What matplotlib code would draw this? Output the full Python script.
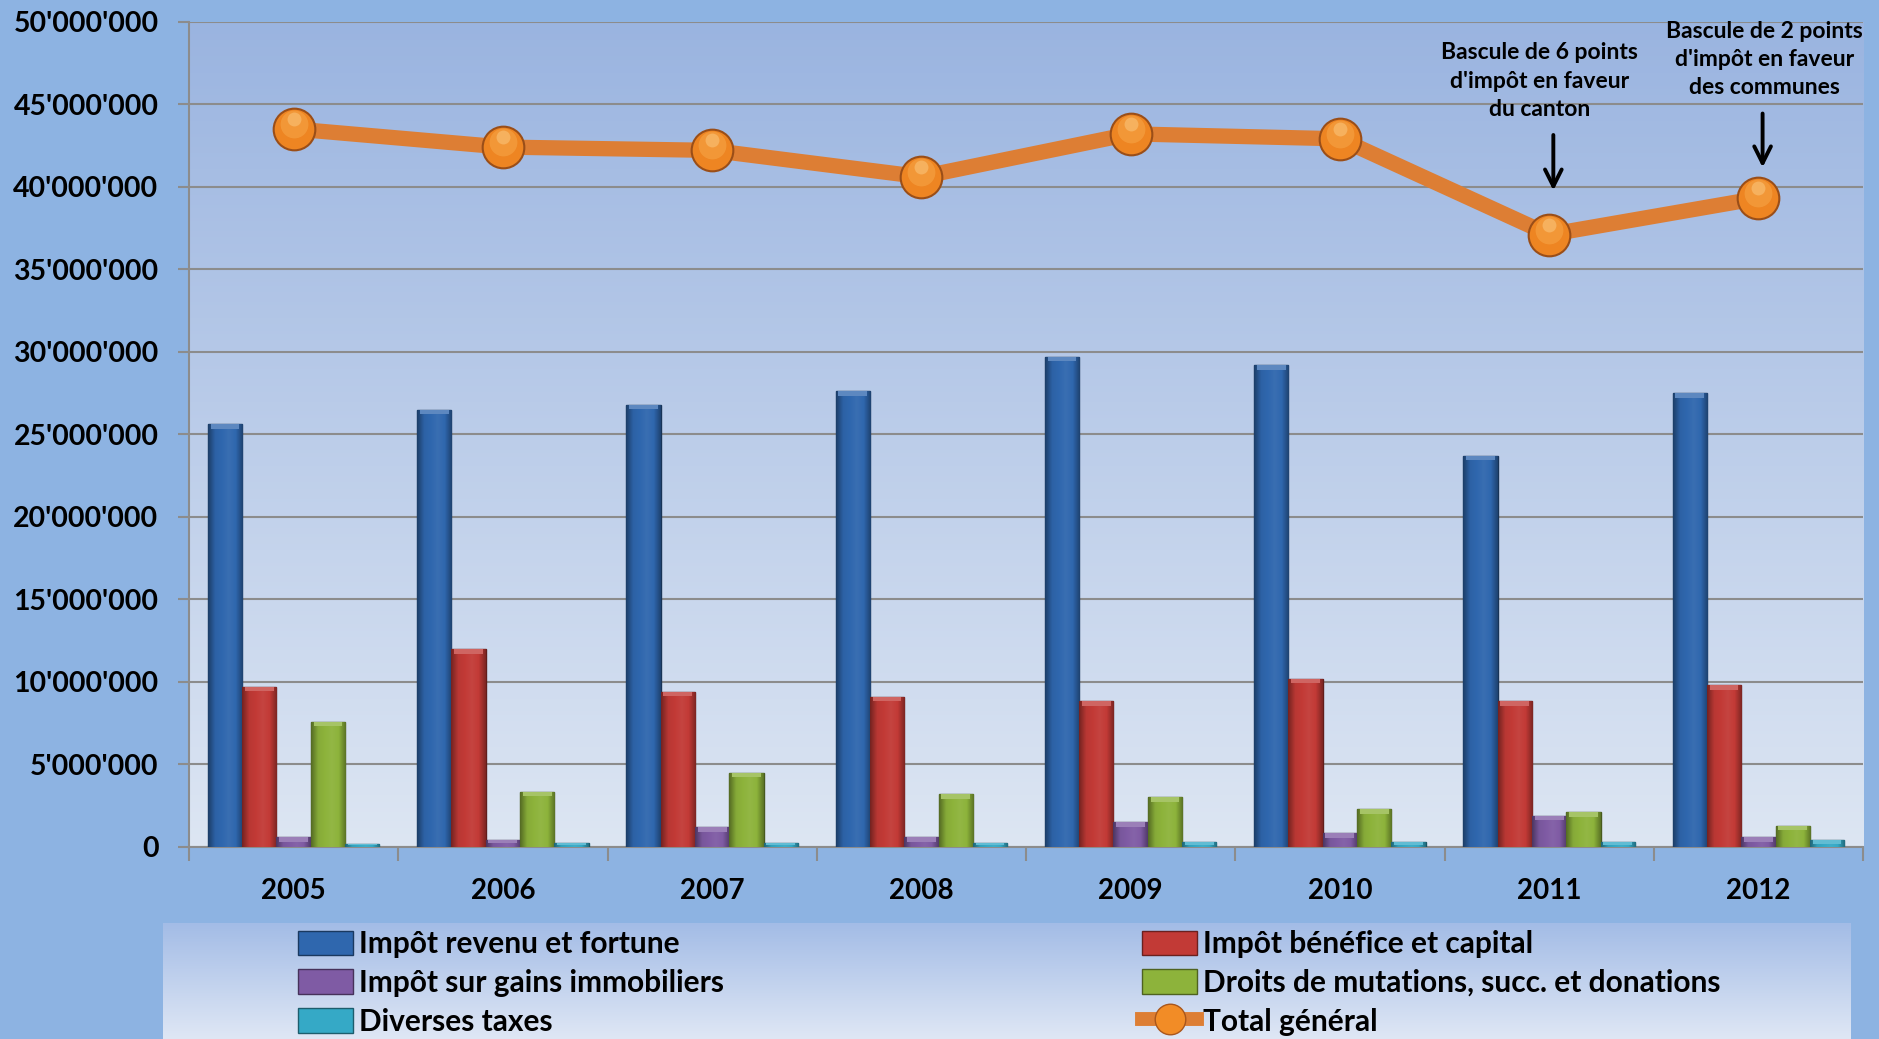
import numpy as np
import matplotlib.pyplot as plt
from matplotlib.colors import LinearSegmentedColormap, to_rgb
from matplotlib.patches import Rectangle
from matplotlib.lines import Line2D
from matplotlib.ticker import FuncFormatter

plt.rcParams['font.family'] = ['Lato', 'DejaVu Sans']
plt.rcParams['font.weight'] = 'bold'

# values (CHF)
years = ['2005', '2006', '2007', '2008', '2009', '2010', '2011', '2012']
revenu_fortune = [25.6e6, 26.5e6, 26.8e6, 27.6e6, 29.7e6, 29.2e6, 23.7e6, 27.5e6]
benefice_capital = [9.7e6, 12.0e6, 9.4e6, 9.1e6, 8.85e6, 10.2e6, 8.85e6, 9.8e6]
gains_immobiliers = [0.58e6, 0.45e6, 1.2e6, 0.6e6, 1.5e6, 0.85e6, 1.9e6, 0.6e6]
droits_mutations = [7.6e6, 3.35e6, 4.5e6, 3.2e6, 3.0e6, 2.3e6, 2.1e6, 1.3e6]
diverses_taxes = [0.2e6, 0.25e6, 0.25e6, 0.25e6, 0.3e6, 0.3e6, 0.3e6, 0.4e6]
total_general = [43.5e6, 42.4e6, 42.2e6, 40.6e6, 43.2e6, 42.9e6, 37.1e6, 39.3e6]

labels = ['Impôt revenu et fortune', 'Impôt bénéfice et capital',
          'Impôt sur gains immobiliers', 'Droits de mutations, succ. et donations',
          'Diverses taxes']
label_total = 'Total général'

notes = ["Bascule de 6 points\nd'impôt en faveur\ndu canton",
         "Bascule de 2 points\nd'impôt en faveur\ndes communes"]
note_years = [6, 7]

colors = ['#2F67AE', '#C23A36', '#7F5BA4', '#8DB33B', '#35A9C6']
fig_bg = '#8DB3E2'


def shade(c, f):
    r = np.array(to_rgb(c))
    if f < 0:
        return tuple(r * (1 + f))
    return tuple(r + (1 - r) * f)


def bar_cmap(c):
    return LinearSegmentedColormap.from_list(
        'b', [shade(c, -0.4), shade(c, -0.05), c, shade(c, 0.05), c, shade(c, -0.35)])


fig = plt.figure(figsize=(18.79, 10.39), dpi=100, facecolor=fig_bg)
pos = [0.1006, 0.1848, 0.8909, 0.7944]

# plot area background gradient
bg = fig.add_axes(pos, zorder=0)
bg.imshow(np.linspace(0, 1, 256).reshape(-1, 1), aspect='auto', extent=[0, 1, 0, 1],
          cmap=LinearSegmentedColormap.from_list('g', ['#9AB4E0', '#DDE6F3']))
bg.axis('off')

ax = fig.add_axes(pos, zorder=1)
ax.set_facecolor('none')

x = np.arange(len(years))
series = [revenu_fortune, benefice_capital, gains_immobiliers, droits_mutations, diverses_taxes]
w = 0.82 / len(series)
grad = np.linspace(0, 1, 64).reshape(1, -1)
for i, (vals, c) in enumerate(zip(series, colors)):
    bars = ax.bar(x + (i - 2) * w, vals, w, color=c, edgecolor=shade(c, -0.5),
                  linewidth=1.0, zorder=3)
    for p in bars:
        x0, h = p.get_x(), p.get_height()
        im = ax.imshow(grad, cmap=bar_cmap(c), aspect='auto', zorder=3.5,
                       extent=[x0, x0 + p.get_width(), 0, h])
        im.set_clip_path(p)
        # light bevel at the top of the bar
        cap = min(h * 0.5, 0.28e6)
        ax.add_patch(Rectangle((x0 + p.get_width() * 0.08, h - cap), p.get_width() * 0.84, cap,
                               color=shade(c, 0.22), zorder=3.6, lw=0))

ax.plot(x, total_general, color='#DD7E34', lw=11, zorder=5, solid_capstyle='round')
ax.plot(x, total_general, 'o', ms=30, mfc='#EE8522', mec='#9A4E18', mew=1.5, zorder=6)
ax.plot(x, np.array(total_general) + 0.3e6, 'o', ms=20, mfc='#F39A3A', mec='none',
        alpha=0.9, zorder=7)
ax.plot(x, np.array(total_general) + 0.6e6, 'o', ms=10, mfc='#F8B868', mec='none',
        alpha=0.8, zorder=7)

# arrow tail / tip offsets above the total marker, text centre offsets
arrow_tail = [6.2e6, 5.3e6]
arrow_tip = [2.5e6, 1.7e6]
text_dy = [9.3e6, 8.4e6]
text_dx = [-0.045, 0.03]
for k, (t, xi) in enumerate(zip(notes, note_years)):
    y0 = total_general[xi]
    ax.annotate('', xy=(xi + 0.02, y0 + arrow_tip[k]), xytext=(xi + 0.02, y0 + arrow_tail[k]),
                arrowprops=dict(arrowstyle='->', lw=2.8, color='black', mutation_scale=30),
                zorder=8)
    ax.text(xi + text_dx[k], y0 + text_dy[k], t, ha='center', va='center',
            fontsize=16.5, fontweight='bold', linespacing=1.42, zorder=8)

ax.set_xlim(-0.5, len(years) - 0.5)
ax.set_ylim(0, 50e6)
ax.set_yticks(np.arange(0, 50e6 + 1, 5e6))
ax.yaxis.set_major_formatter(FuncFormatter(
    lambda v, p: '0' if v == 0 else f'{v:,.0f}'.replace(',', "'")))
ax.grid(axis='y', color='#8C8C8C', lw=1.5, zorder=1)
ax.set_axisbelow(True)

ax.set_xticks(np.arange(-0.5, len(years), 1))
ax.set_xticklabels([])
ax.set_xticks(x, minor=True)
ax.set_xticklabels(years, minor=True, fontsize=20, fontweight='bold')
ax.tick_params(axis='x', which='major', length=10, width=1.5, color='#8C8C8C', direction='out')
ax.tick_params(axis='x', which='minor', length=0, pad=22)
ax.tick_params(axis='y', length=8, width=1.5, color='#8C8C8C', labelsize=20.5, pad=14)
for lab in ax.get_yticklabels():
    lab.set_fontweight('bold')
for s in ['top', 'right']:
    ax.spines[s].set_visible(False)
for s in ['left', 'bottom']:
    ax.spines[s].set_color('#8C8C8C')
    ax.spines[s].set_linewidth(1.5)

# legend box with gradient
lax = fig.add_axes([163 / 1879, 0, (1851 - 163) / 1879, 116 / 1039], zorder=2)
lax.imshow(np.linspace(0, 1, 256).reshape(-1, 1), aspect='auto', extent=[0, 1, 0, 1],
           cmap=LinearSegmentedColormap.from_list('lg', ['#A3BCE6', '#DFE7F5']))
lax.axis('off')

handles = [Rectangle((0, 0), 1, 1, fc=c, ec=shade(c, -0.45)) for c in colors]
total_handle = Line2D([], [], color='#DD7E34', lw=10, marker='o', ms=22,
                      mfc='#F28C26', mec='#A9561C')
leg_kw = dict(frameon=False, handlelength=1.85, handleheight=0.9,
              handletextpad=0.2, labelspacing=0.36, borderaxespad=0,
              prop={'weight': 'bold', 'size': 21.5})
leg1 = lax.legend([handles[0], handles[2], handles[4]], [labels[0], labels[2], labels[4]],
                  loc='upper left', bbox_to_anchor=(0.073, 1.04), **leg_kw)
lax.add_artist(leg1)
lax.legend([handles[1], handles[3], total_handle], [labels[1], labels[3], label_total],
           loc='upper left', bbox_to_anchor=(0.573, 1.04), **leg_kw)

fig.savefig('out.png', dpi=100, facecolor=fig_bg)
